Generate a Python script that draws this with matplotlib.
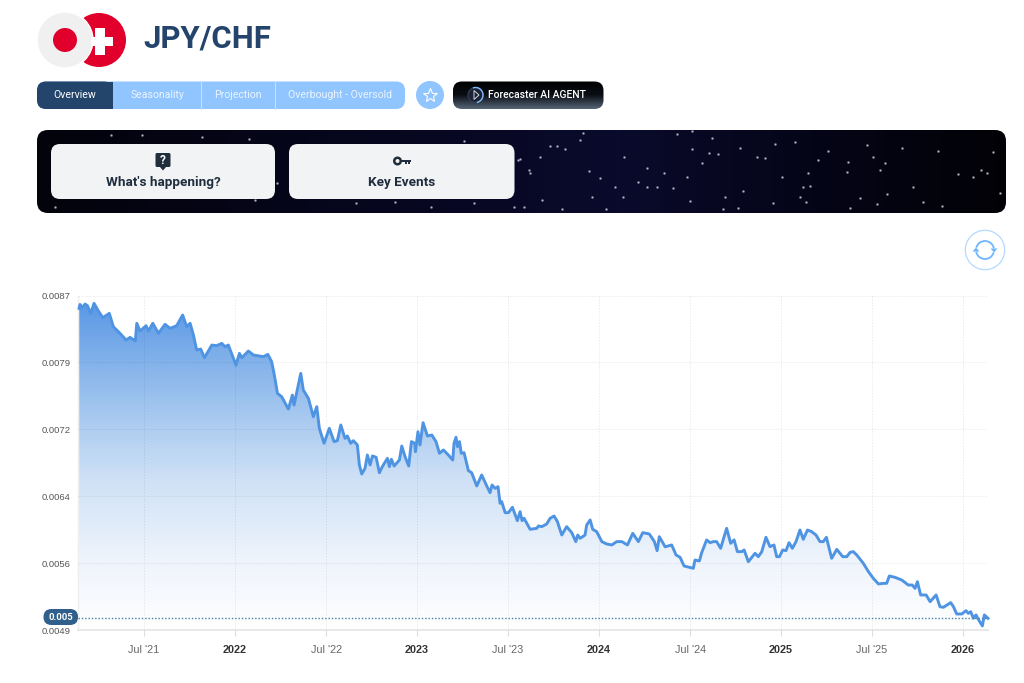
import numpy as np
import matplotlib
matplotlib.use('Agg')
import matplotlib.pyplot as plt
from matplotlib.colors import LinearSegmentedColormap
from matplotlib.patches import Arc, Circle, Ellipse, FancyBboxPatch, Polygon, Rectangle

plt.rcParams['font.family'] = ['Roboto', 'DejaVu Sans']

# decimal years and JPY/CHF rate
years = [2021.143, 2021.148, 2021.159, 2021.176, 2021.189, 2021.207, 2021.225, 2021.249, 2021.273, 2021.309,
         2021.331, 2021.368, 2021.401, 2021.423, 2021.452, 2021.460, 2021.478, 2021.511, 2021.524, 2021.548,
         2021.579, 2021.615, 2021.643, 2021.679, 2021.712, 2021.734, 2021.753, 2021.771, 2021.789, 2021.811,
         2021.832, 2021.872, 2021.899, 2021.927, 2021.945, 2021.963, 2022.005, 2022.024, 2022.037, 2022.073,
         2022.101, 2022.156, 2022.180, 2022.201, 2022.214, 2022.233, 2022.256, 2022.293, 2022.315, 2022.324,
         2022.361, 2022.375, 2022.403, 2022.430, 2022.449, 2022.463, 2022.489, 2022.518, 2022.544, 2022.562,
         2022.581, 2022.604, 2022.617, 2022.635, 2022.650, 2022.672, 2022.683, 2022.696, 2022.714, 2022.727,
         2022.742, 2022.755, 2022.775, 2022.793, 2022.811, 2022.837, 2022.848, 2022.859, 2022.874, 2022.903,
         2022.916, 2022.934, 2022.954, 2022.969, 2022.987, 2022.991, 2023.005, 2023.016, 2023.033, 2023.057,
         2023.081, 2023.104, 2023.123, 2023.145, 2023.172, 2023.196, 2023.203, 2023.214, 2023.222, 2023.233,
         2023.243, 2023.258, 2023.282, 2023.300, 2023.328, 2023.355, 2023.383, 2023.401, 2023.412, 2023.429,
         2023.445, 2023.456, 2023.465, 2023.484, 2023.502, 2023.524, 2023.551, 2023.566, 2023.577, 2023.588,
         2023.621, 2023.658, 2023.667, 2023.685, 2023.712, 2023.731, 2023.753, 2023.771, 2023.795, 2023.822,
         2023.850, 2023.872, 2023.883, 2023.896, 2023.923, 2023.932, 2023.951, 2023.965, 2023.987, 2024.015,
         2024.042, 2024.070, 2024.097, 2024.125, 2024.156, 2024.185, 2024.216, 2024.240, 2024.276, 2024.304,
         2024.319, 2024.331, 2024.363, 2024.399, 2024.423, 2024.445, 2024.467, 2024.518, 2024.527, 2024.551,
         2024.564, 2024.591, 2024.610, 2024.628, 2024.646, 2024.668, 2024.701, 2024.723, 2024.742, 2024.760,
         2024.784, 2024.797, 2024.820, 2024.857, 2024.875, 2024.894, 2024.917, 2024.939, 2024.961, 2024.976,
         2024.991, 2025.009, 2025.027, 2025.044, 2025.062, 2025.082, 2025.104, 2025.122, 2025.145, 2025.168,
         2025.192, 2025.214, 2025.232, 2025.249, 2025.278, 2025.306, 2025.339, 2025.361, 2025.379, 2025.397,
         2025.416, 2025.452, 2025.480, 2025.507, 2025.535, 2025.562, 2025.580, 2025.595, 2025.626, 2025.663,
         2025.699, 2025.721, 2025.736, 2025.749, 2025.767, 2025.797, 2025.819, 2025.852, 2025.873, 2025.892,
         2025.932, 2025.947, 2025.965, 2025.993, 2026.016, 2026.029, 2026.042, 2026.057, 2026.071, 2026.084,
         2026.106, 2026.117, 2026.137]
rates = [.008554, .008599, .008561, .008603, .008584, .008497, .008611, .008524, .008448, .008497,
         .008346, .008270, .008194, .008224, .008183, .008384, .008296, .008357, .008296, .008384,
         .008270, .008372, .008327, .008357, .008478, .008346, .008384, .008251, .008081, .008092,
         .007993, .008137, .008130, .008156, .008118, .008137, .007910, .008043, .007993, .008069,
         .008024, .008005, .008031, .007948, .007815, .007588, .007550, .007410, .007569, .007456,
         .007815, .007626, .007531, .007323, .007437, .007191, .007021, .007191, .007040, .007051,
         .007229, .007077, .007104, .007021, .007051, .007002, .006775, .006672, .006737, .006888,
         .006775, .006877, .006862, .006687, .006763, .006850, .006756, .006839, .006763, .006831,
         .006990, .006869, .006763, .007040, .007021, .006926, .007153, .007002, .007255, .007104,
         .007115, .007040, .006907, .006945, .006888, .006831, .007021, .007089, .006983, .007040,
         .006907, .006915, .006710, .006687, .006536, .006661, .006536, .006460, .006547, .006509,
         .006528, .006339, .006358, .006233, .006233, .006294, .006142, .006244, .006142, .006169,
         .006044, .006055, .006082, .006074, .006104, .006169, .006195, .006131, .005979, .006074,
         .006006, .005904, .005979, .005941, .005979, .006093, .006150, .006044, .006017, .005904,
         .005877, .005866, .005904, .005904, .005866, .005998, .005904, .006006, .005991, .005904,
         .005801, .005960, .005845, .005866, .005752, .005726, .005627, .005601, .005695, .005684,
         .005779, .005923, .005892, .005904, .005904, .005828, .006055, .005885, .005923, .005790,
         .005790, .005809, .005676, .005771, .005733, .005790, .005953, .005847, .005866, .005733,
         .005733, .005809, .005801, .005892, .005828, .005904, .006036, .005930, .006036, .006017,
         .005979, .005904, .005904, .005953, .005714, .005816, .005733, .005733, .005782, .005790,
         .005752, .005657, .005563, .005487, .005423, .005430, .005430, .005514, .005498, .005468,
         .005411, .005411, .005373, .005449, .005298, .005298, .005222, .005298, .005165, .005158,
         .005211, .005165, .005082, .005082, .005120, .005089, .005108, .005033, .005071, .005021,
         .004946, .005071, .005033]
current_rate = 0.005036

y_ticks = [0.0087, 0.00794, 0.00718, 0.00642, 0.00566, 0.0049]
y_labels = ['0.0087', '0.0079', '0.0072', '0.0064', '0.0056', '0.0049']
x_ticks = [2021.5, 2022, 2022.5, 2023, 2023.5, 2024, 2024.5, 2025, 2025.5, 2026]
x_labels = ["Jul '21", '2022', "Jul '22", '2023', "Jul '23", '2024', "Jul '24", '2025', "Jul '25", '2026']

tab_names = ['Overview', 'Seasonality', 'Projection', 'Overbought - Oversold']

# star field of the banner
star_x = [583, 557, 550, 565, 624, 580, 520, 540, 529, 589, 600, 638, 647, 664, 687, 615, 623, 647, 657, 673,
          542, 524, 562, 592, 606, 690, 723, 743, 725, 738, 740, 718, 709, 702, 692, 692, 677, 712, 775, 765,
          757, 795, 828, 818, 808, 782, 803, 810, 800, 806, 773, 847, 848, 873, 885, 880, 913, 860, 850, 877,
          887, 923, 942, 938, 902, 867, 973, 981, 987, 993, 1000, 958, 55, 255, 395, 356, 464, 202, 249, 111,
          142, 474, 530, 514, 431, 277, 518]
star_y = [133, 146, 146, 149, 157, 140, 159, 157, 170, 171, 178, 182, 168, 173, 177, 187, 197, 187, 187, 188,
          200, 207, 209, 197, 209, 201, 209, 191, 197, 208, 148, 154, 153, 163, 149, 131, 134, 138, 144, 158,
          157, 142, 151, 160, 173, 177, 187, 186, 197, 202, 203, 172, 162, 157, 163, 170, 187, 198, 208, 204,
          194, 202, 206, 151, 148, 145, 177, 170, 173, 152, 193, 174, 207, 200, 202, 203, 141, 137, 139, 135,
          135, 203, 173, 207, 207, 183, 160]

fig = plt.figure(figsize=(10.24, 6.83), dpi=100, facecolor='white')

# page furniture drawn in pixel coordinates
ui = fig.add_axes([0, 0, 1, 1], zorder=3)
ui.set_axis_off()
ui.patch.set_alpha(0)


def rounded(x0, y0, x1, y1, radius, color, zorder=2):
    box = FancyBboxPatch((x0 + radius, y0 + radius), x1 - x0 - 2 * radius, y1 - y0 - 2 * radius,
                         boxstyle='round,pad=%f,rounding_size=%f' % (radius, radius),
                         facecolor=color, edgecolor='none', zorder=zorder)
    ui.add_patch(box)
    return box


# logo
ui.add_patch(Circle((99, 40), 27, facecolor='#e0002b', zorder=2))
ui.add_patch(Circle((65, 40), 28, facecolor='#f0f0f0', edgecolor='white', linewidth=1, zorder=3))
ui.add_patch(Rectangle((91, 36.5), 22, 9.5, facecolor='white', zorder=4))
ui.add_patch(Rectangle((95, 28), 9.5, 26.5, facecolor='white', zorder=4))
ui.add_patch(Circle((65, 40), 12, facecolor='#e0002b', zorder=5))
ui.text(143.5, 39, 'JPY/CHF', fontsize=22.4, fontweight='bold', color='#24446c', va='center', ha='left')

# tabs
rounded(37, 81.5, 405, 109, 9, '#90c5ff')
rounded(37, 81.5, 113, 109, 9, '#24456b', zorder=3)
ui.add_patch(Rectangle((100, 81.5), 13, 27.5, facecolor='#24456b', zorder=3))
ui.plot([200.5, 200.5], [81.5, 109], color='#c4e0ff', lw=0.8, zorder=3)
ui.plot([274.5, 274.5], [81.5, 109], color='#c4e0ff', lw=0.8, zorder=3)
for name, cx, fs in zip(tab_names, [75, 157.5, 238, 340], [7.6, 7.6, 7.6, 7.6]):
    ui.text(cx, 95, name, fontsize=fs, color='#eaf4ff' if name != 'Overview' else 'white',
            ha='center', va='center', zorder=4)

# favourite button
ui.add_patch(Circle((430, 95), 14, facecolor='#90c5ff', zorder=2))
ui.plot([430], [95], marker='*', ms=10.5, mfc='none', mec='white', mew=0.8, zorder=3)

# forecaster button
button = rounded(453, 81.5, 603.5, 109, 9, 'none')
grad_btn = LinearSegmentedColormap.from_list('btn', [(0, '#000000'), (0.5, '#0a0e14'), (1, '#566577')])
btn_img = ui.imshow(np.linspace(0, 1, 64).reshape(-1, 1), cmap=grad_btn, extent=(453, 603.5, 109, 81.5),
                    aspect='auto', zorder=2)
btn_img.set_clip_path(button)
ui.add_patch(Circle((475.5, 95), 7.5, facecolor='#1c2233', edgecolor='#33415c', linewidth=0.8, zorder=3))
ui.add_patch(Arc((475.5, 95), 15, 15, theta1=-110, theta2=80, edgecolor='#7fbcff', linewidth=1, zorder=4))
ui.add_patch(Polygon([(474, 90.5), (479, 95), (474, 99.5)], facecolor='none', edgecolor='#c8d4e4',
                     linewidth=0.7, zorder=4))
ui.text(488, 95, 'Forecaster AI AGENT', fontsize=7.5, fontweight='medium', color='white', va='center', zorder=4)

# banner with stars
banner = rounded(37, 130, 1006, 213, 11, 'none')
grad_banner = LinearSegmentedColormap.from_list(
    'banner', [(0, '#03030c'), (0.3, '#06061c'), (0.6, '#0a0a2c'), (0.8, '#050518'), (1, '#020206')])
banner_img = ui.imshow(np.linspace(0, 1, 256).reshape(1, -1), cmap=grad_banner, extent=(37, 1006, 213, 130),
                       aspect='auto', zorder=2)
banner_img.set_clip_path(banner)
ui.scatter(star_x, star_y, s=5, color='#8f91a3', alpha=0.45, linewidths=0, zorder=3)
ui.scatter(star_x, star_y, s=1.4, color='#b9bbc9', linewidths=0, zorder=3)

# cards
rounded(51, 144, 275, 199, 9, '#f2f3f5', zorder=4)
rounded(289, 144, 514.5, 199, 9, '#f2f3f5', zorder=4)
ui.text(163, 182.5, "What's happening?", fontsize=9.7, fontweight='bold', color='#1f2d3d',
        ha='center', va='center', zorder=5)
ui.text(402, 182.5, 'Key Events', fontsize=9.7, fontweight='bold', color='#1f2d3d',
        ha='center', va='center', zorder=5)
rounded(155.5, 153, 170.5, 167, 1.5, '#1f2d3d', zorder=5)
ui.add_patch(Polygon([(160, 167), (166, 167), (163, 170.5)], facecolor='#1f2d3d', zorder=5))
ui.text(163, 160, '?', fontsize=8.5, fontweight='bold', color='white', ha='center', va='center', zorder=6)
ui.add_patch(Ellipse((397.5, 161), 6.5, 6.5, facecolor='none', edgecolor='#1f2d3d', linewidth=1.8, zorder=5))
ui.add_patch(Rectangle((401, 159.5), 9.5, 2.2, facecolor='#1f2d3d', zorder=5))
ui.add_patch(Rectangle((405, 161), 1.6, 2.8, facecolor='#1f2d3d', zorder=5))
ui.add_patch(Rectangle((408.4, 161), 1.6, 2.8, facecolor='#1f2d3d', zorder=5))

# refresh button
ui.add_patch(Circle((985, 250), 19.7, facecolor='white', edgecolor='#b5d9ff', linewidth=0.9, zorder=2))
ui.add_patch(Arc((985, 250), 18, 18, theta1=15, theta2=170, edgecolor='#6fb5ff', linewidth=1.3, zorder=3))
ui.add_patch(Arc((985, 250), 18, 18, theta1=195, theta2=350, edgecolor='#6fb5ff', linewidth=1.3, zorder=3))
ui.add_patch(Polygon([(990.5, 248.5), (997.5, 248.5), (994, 252.5)], facecolor='#6fb5ff', zorder=3))
ui.add_patch(Polygon([(972.5, 251.5), (979.5, 251.5), (976, 247.5)], facecolor='#6fb5ff', zorder=3))

# price chart
ax = fig.add_axes([78 / 1024, (683 - 630) / 683, (988 - 78) / 1024, (630 - 295.5) / 683], zorder=2)
ax.patch.set_alpha(0)
ax.set_xlim(2021.137, 2026.137)
ax.set_ylim(0.0049, 0.0087)

area_cmap = LinearSegmentedColormap.from_list(
    'area', [(0, '#ffffff'), (0.21, '#eef4fc'), (0.45, '#cfe1f6'), (0.69, '#9cc2ee'), (1, '#5595e4')])
area = ax.imshow(np.linspace(1, 0, 256).reshape(-1, 1), cmap=area_cmap, vmin=0, vmax=1, aspect='auto',
                 extent=(2021.137, 2026.137, 0.0049, 0.0087), zorder=1)
clip_poly = ax.fill_between(years, rates, 0.0049, facecolor='none', edgecolor='none')
area.set_clip_path(clip_poly.get_paths()[0], transform=ax.transData)

ax.set_yticks(y_ticks)
ax.set_yticklabels(y_labels, fontsize=6.8, color='#555555', family=['Liberation Sans', 'DejaVu Sans'])
ax.set_xticks(x_ticks)
ax.set_xticklabels(x_labels, fontsize=7.8, color='#666666', family=['Liberation Sans', 'DejaVu Sans'])
for tick_label, text in zip(ax.get_xticklabels(), x_labels):
    if not text.startswith('Jul'):
        tick_label.set_fontweight('bold')
        tick_label.set_color('#333333')
ax.tick_params(axis='y', length=0, pad=5.5)
ax.tick_params(axis='x', length=4, width=0.8, color='#dddddd', pad=7)
ax.grid(True, color='#000000', alpha=0.08, linewidth=0.7, linestyle=(0, (1.5, 1.5)), zorder=2)
ax.set_axisbelow(False)

for side in ['top', 'right']:
    ax.spines[side].set_visible(False)
ax.spines['left'].set_color('#eeeeee')
ax.spines['left'].set_linewidth(1)
ax.spines['bottom'].set_color('#e8e8e8')
ax.spines['bottom'].set_linewidth(1.4)

ax.plot(years, rates, color='#4f94e3', linewidth=2.1, solid_joinstyle='round', zorder=4, clip_on=False)
ax.axhline(current_rate, color='#4d7f9e', linewidth=1, linestyle=(0, (1, 1.4)), zorder=5)

# current price tag, in pixel coordinates
rounded(43.5, 609, 78, 625, 8, '#2f5f8a', zorder=6)
ui.text(61, 617, '%.3f' % current_rate, fontsize=6.8, fontweight='bold', color='white',
        ha='center', va='center', zorder=7)

ui.set_xlim(0, 1024)
ui.set_ylim(683, 0)

fig.savefig('out.png', dpi=100)
